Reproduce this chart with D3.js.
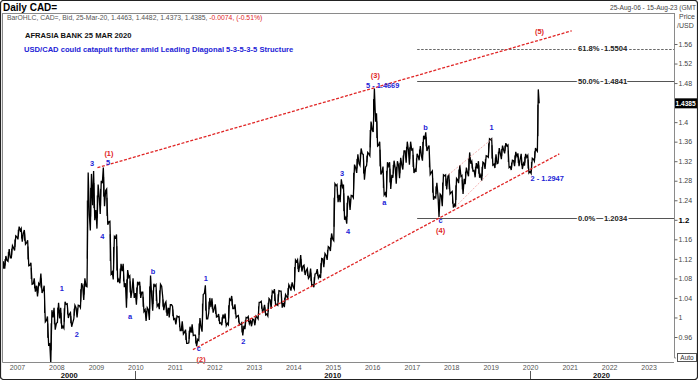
<!DOCTYPE html>
<html>
<head>
<meta charset="utf-8">
<script src="https://cdn.jsdelivr.net/npm/d3@7"></script>
<style>
  html, body { margin: 0; padding: 0; background: #fff; }
  svg { display: block; font-family: "Liberation Sans", Arial, sans-serif; }
</style>
</head>
<body>
<div id="chart"></div>
<script>
// ---- data (monthly high / low / close) ----
const startMonth = '2006-08';

const highs = [
  1.115, 1.126, 1.140, 1.147, 1.167,                                             // 2006 Aug-Dec
  1.186, 1.182, 1.179, 1.158, 1.112, 1.080, 1.070, 1.090, 1.065, 1.002, 1.015, 1.020, // 2007
  1.030, 1.020, 1.032, 1.028, 1.010, 1.025, 1.025, 1.070, 1.080, 1.297, 1.294, 1.300, // 2008
  1.272, 1.280, 1.307, 1.263, 1.197, 1.166, 1.170, 1.110, 1.110, 1.097, 1.085, 1.080, // 2009
  1.073, 1.073, 1.052, 1.020, 1.086, 1.069, 1.067, 1.068, 1.044, 1.032, 1.026, 1.023, // 2010
  1.003, 1.002, 0.992, 0.975, 0.981, 0.986, 0.964, 0.999, 1.047, 1.066, 1.040, 1.039, // 2011
  1.027, 1.007, 1.006, 1.008, 1.038, 1.044, 1.027, 1.004, 0.989, 1.000, 1.002, 0.997, // 2012
  1.003, 1.031, 1.033, 1.026, 1.039, 1.054, 1.058, 1.055, 1.054, 1.047, 1.067, 1.072, // 2013
  1.118, 1.118, 1.128, 1.107, 1.100, 1.100, 1.089, 1.099, 1.121, 1.131, 1.145, 1.172, // 2014
  1.274, 1.272, 1.283, 1.272, 1.249, 1.250, 1.313, 1.334, 1.346, 1.334, 1.338, 1.401, // 2015
  1.469, 1.418, 1.360, 1.309, 1.318, 1.318, 1.321, 1.320, 1.327, 1.341, 1.360, 1.360, // 2016
  1.345, 1.335, 1.351, 1.372, 1.379, 1.352, 1.300, 1.276, 1.253, 1.292, 1.292, 1.292, // 2017
  1.258, 1.285, 1.312, 1.291, 1.307, 1.338, 1.320, 1.316, 1.320, 1.318, 1.331, 1.366, // 2018
  1.366, 1.334, 1.347, 1.352, 1.357, 1.353, 1.322, 1.339, 1.336, 1.335, 1.335, 1.332, // 2019
  1.326, 1.347, 1.467                                                            // 2020
];

const lows = [
  1.100, 1.100, 1.115, 1.122, 1.137,
  1.160, 1.155, 1.150, 1.106, 1.068, 1.053, 1.043, 1.050, 0.991, 0.944, 0.906, 0.975,
  0.990, 0.977, 0.978, 0.999, 0.981, 0.997, 1.000, 1.020, 1.036, 1.063, 1.178, 1.199,
  1.182, 1.212, 1.228, 1.190, 1.089, 1.078, 1.072, 1.070, 1.062, 1.020, 1.040, 1.040,
  1.026, 1.040, 1.012, 0.993, 0.995, 1.014, 1.023, 1.017, 1.015, 1.003, 1.000, 0.996,
  0.986, 0.973, 0.966, 0.947, 0.948, 0.963, 0.941, 0.953, 0.971, 0.997, 1.009, 1.010,
  1.001, 0.988, 0.984, 0.983, 0.985, 1.018, 1.000, 0.985, 0.963, 0.976, 0.987, 0.982,
  0.984, 0.997, 1.013, 1.005, 1.003, 1.018, 1.026, 1.025, 1.020, 1.021, 1.039, 1.055,
  1.058, 1.093, 1.094, 1.087, 1.080, 1.066, 1.062, 1.081, 1.081, 1.103, 1.118, 1.136,
  1.157, 1.236, 1.236, 1.200, 1.192, 1.220, 1.245, 1.296, 1.311, 1.282, 1.311, 1.331,
  1.380, 1.351, 1.293, 1.251, 1.246, 1.263, 1.286, 1.274, 1.285, 1.303, 1.317, 1.313,
  1.296, 1.298, 1.322, 1.321, 1.341, 1.293, 1.241, 1.245, 1.206, 1.228, 1.262, 1.253,
  1.225, 1.226, 1.275, 1.253, 1.273, 1.289, 1.300, 1.287, 1.286, 1.280, 1.304, 1.328,
  1.312, 1.306, 1.316, 1.324, 1.336, 1.307, 1.302, 1.310, 1.310, 1.304, 1.311, 1.296,
  1.295, 1.320, 1.340
];

const closes = [
  1.105, 1.117, 1.122, 1.142, 1.165,
  1.178, 1.172, 1.153, 1.107, 1.069, 1.065, 1.066, 1.056, 0.994, 0.946, 1.000, 0.988,
  0.998, 0.982, 1.027, 1.007, 0.990, 1.020, 1.024, 1.062, 1.064, 1.210, 1.230, 1.220,
  1.245, 1.275, 1.260, 1.196, 1.093, 1.163, 1.078, 1.095, 1.070, 1.082, 1.056, 1.050,
  1.068, 1.052, 1.016, 1.016, 1.042, 1.064, 1.027, 1.064, 1.028, 1.020, 1.026, 0.998,
  1.001, 0.973, 0.970, 0.947, 0.969, 0.964, 0.955, 0.979, 1.049, 0.997, 1.021, 1.018,
  1.002, 0.989, 0.998, 0.988, 1.035, 1.018, 1.003, 0.986, 0.983, 0.999, 0.993, 0.995,
  1.000, 1.031, 1.016, 1.007, 1.036, 1.051, 1.027, 1.054, 1.030, 1.043, 1.062, 1.062,
  1.114, 1.107, 1.105, 1.096, 1.084, 1.067, 1.090, 1.086, 1.120, 1.127, 1.143, 1.160,
  1.270, 1.251, 1.267, 1.205, 1.244, 1.249, 1.306, 1.315, 1.335, 1.308, 1.335, 1.384,
  1.401, 1.353, 1.298, 1.255, 1.310, 1.292, 1.306, 1.311, 1.312, 1.341, 1.343, 1.343,
  1.303, 1.330, 1.330, 1.365, 1.348, 1.297, 1.247, 1.248, 1.250, 1.290, 1.289, 1.256,
  1.231, 1.282, 1.289, 1.284, 1.296, 1.315, 1.301, 1.305, 1.292, 1.316, 1.330, 1.364,
  1.314, 1.315, 1.335, 1.343, 1.351, 1.309, 1.321, 1.330, 1.324, 1.316, 1.328, 1.299,
  1.324, 1.342, 1.4385
];

const yTicks = [0.96, 1, 1.04, 1.08, 1.12, 1.16, 1.2, 1.24, 1.28, 1.32, 1.36, 1.4, 1.48, 1.52, 1.56];
const yearTicks = d3.range(2007, 2024);
const decades = [2000, 2010, 2020];
const lastPrice = 1.4385;

// Elliott wave labels: [text, date, value, colour]
const waveLabels = [
  ['1', '2008-02-20', 1.059, 'blue'], ['2', '2008-07-08', 0.966, 'blue'],
  ['3', '2008-11-25', 1.315, 'blue'], ['4', '2009-02-28', 1.167, 'blue'],
  ['5', '2009-04-22', 1.317, 'blue'], ['a', '2009-11-12', 1.003, 'blue'],
  ['b', '2010-06-12', 1.095, 'blue'], ['1', '2011-10-15', 1.081, 'blue'],
  ['c', '2011-08-10', 0.936, 'blue'], ['2', '2012-09-25', 0.950, 'blue'],
  ['3', '2015-03-28', 1.296, 'blue'], ['4', '2015-05-22', 1.177, 'blue'],
  ['a', '2016-04-22', 1.235, 'blue'], ['b', '2017-05-08', 1.389, 'blue'],
  ['c', '2017-09-25', 1.199, 'blue'], ['1', '2019-01-10', 1.389, 'blue'],
  ['(1)', '2009-05-01', 1.335, 'red'], ['(2)', '2011-09-01', 0.914, 'red'],
  ['(3)', '2016-01-30', 1.495, 'red'], ['(4)', '2017-09-25', 1.178, 'red'],
  ['(5)', '2020-03-28', 1.585, 'red']
];
// labels anchored at their left end
const sideLabels = [
  ['5 - 1.4669', '2015-11-05', 1.475], ['2 - 1.2947', '2020-01-05', 1.284]
];

// trend lines in data space: [[date, value], [date, value]]
const upperTrend = [['2009-01-15', 1.3066], ['2021-01-20', 1.587]];
const lowerTrend = [['2011-06-17', 0.934], ['2020-09-27', 1.335]];
const channelTop = [['2017-12-05', 1.292], ['2019-01-15', 1.366]];
const channelBottom = [['2018-02-10', 1.227], ['2018-12-10', 1.294]];

// Fibonacci retracement levels
const fibStart = '2017-02-20';
const fibLevels = [
  { pct: '61.8%', value: 1.5504, dashed: true },
  { pct: '50.0%', value: 1.4841, dashed: false },
  { pct: '0.0%', value: 1.2034, dashed: false }
];

// ---- layout ----
const W = 698, H = 380;
const plot = { left: 3, right: 674, top: 13, bottom: 362 };
const parse = d3.timeParse('%Y-%m-%d');
const domainStart = new Date(2006, 7, 25), domainEnd = new Date(2023, 7, 15);
const lastDate = new Date(2020, 2, 25);

const x = d3.scaleTime().domain([domainStart, domainEnd]).range([3, 673]);
const y = d3.scaleLinear().domain([0.96, 1.56]).range([337, 44]);

const colors = { blue: '#2323d6', red: '#e02626' };

const svg = d3.select('#chart').append('svg').attr('width', W).attr('height', H);

svg.append('rect').attr('width', W).attr('height', H).attr('fill', '#fff');

// plot frame
svg.append('path')
  .attr('d', `M${plot.left - 0.5},${plot.top + 0.5}H${plot.right + 0.5}M${plot.left - 0.5},${plot.top}V${plot.bottom + 0.5}H${plot.right}M${plot.right + 0.5},${plot.top}V358H676`)
  .attr('fill', 'none').attr('stroke', '#8a8a8a').attr('stroke-width', 1);

svg.append('clipPath').attr('id', 'clip')
  .append('rect').attr('x', plot.left).attr('y', plot.top + 1)
  .attr('width', plot.right - plot.left).attr('height', plot.bottom - plot.top - 1);

const g = svg.append('g').attr('clip-path', 'url(#clip)');

// ---- price path: each month hits its high and low, then the close ----
const months = d3.timeMonth.range(parse(startMonth + '-01'), new Date(2020, 3, 1));
const pts = [];
months.forEach((m, i) => {
  const s = Math.max(m, domainStart), e = Math.min(d3.timeMonth.offset(m, 1), lastDate);
  const at = f => new Date(+s + (e - s) * f);
  const prev = i ? closes[i - 1] : closes[i];
  const upMonth = closes[i] >= prev;
  if (i === 0) pts.push([at(0), prev]);
  pts.push([at(0.3), upMonth ? lows[i] : highs[i]]);
  pts.push([at(0.65), upMonth ? highs[i] : lows[i]]);
  pts.push([at(1), closes[i]]);
});

g.append('path').datum(pts)
  .attr('d', d3.line().x(d => x(d[0])).y(d => y(d[1])))
  .attr('fill', 'none').attr('stroke', '#000').attr('stroke-width', 1.3)
  .attr('stroke-linejoin', 'miter');

// monthly high-low bars for the bar texture
g.selectAll('line.bar').data(months).join('line').attr('class', 'bar')
  .attr('x1', (m, i) => x(new Date(+Math.max(m, domainStart) + 12 * 864e5)))
  .attr('x2', (m, i) => x(new Date(+Math.max(m, domainStart) + 12 * 864e5)))
  .attr('y1', (m, i) => y(highs[i]) + (highs[i] - lows[i]) * 120)
  .attr('y2', (m, i) => y(lows[i]) - (highs[i] - lows[i]) * 120)
  .attr('stroke', '#000').attr('stroke-width', 1);

// ---- Fibonacci lines ----
fibLevels.forEach(f => {
  g.append('line')
    .attr('x1', x(parse(fibStart))).attr('x2', plot.right)
    .attr('y1', Math.round(y(f.value)) + 0.5).attr('y2', Math.round(y(f.value)) + 0.5)
    .attr('stroke', f.dashed ? '#666' : '#555').attr('stroke-width', 1)
    .attr('stroke-dasharray', f.dashed ? '2.5,1.5' : null);
  [[f.pct, 578], [f.value.toFixed(4), 604]].forEach(([t, px]) => {
    svg.append('text').attr('x', px).attr('y', y(f.value) + 2.6)
      .attr('font-size', 7.6).attr('font-weight', 'bold').attr('fill', '#222')
      .attr('stroke', '#fff').attr('stroke-width', 2.5).attr('paint-order', 'stroke')
      .text(t);
  });
});

// ---- trend lines ----
const seg = (pair, stroke, width, dash) => g.append('line')
  .attr('x1', x(parse(pair[0][0]))).attr('y1', y(pair[0][1]))
  .attr('x2', x(parse(pair[1][0]))).attr('y2', y(pair[1][1]))
  .attr('stroke', stroke).attr('stroke-width', width).attr('stroke-dasharray', dash);

seg(upperTrend, '#e02626', 1.3, '3,1.6');
seg(lowerTrend, '#e02626', 1.3, '3,1.6');
seg(channelTop, '#f0a0a0', 0.8, '2,1.5');
seg(channelBottom, '#f0a0a0', 0.8, '2,1.5');

// ---- wave labels ----
svg.selectAll('text.wave').data(waveLabels).join('text').attr('class', 'wave')
  .attr('x', d => x(parse(d[1]))).attr('y', d => y(d[2]) + 2.6)
  .attr('text-anchor', 'middle').attr('font-size', 7.4).attr('font-weight', 'bold')
  .attr('fill', d => colors[d[3]]).text(d => d[0]);

svg.selectAll('text.side').data(sideLabels).join('text').attr('class', 'side')
  .attr('x', d => x(parse(d[1]))).attr('y', d => y(d[2]) + 2.6)
  .attr('font-size', 7.4).attr('font-weight', 'bold')
  .attr('fill', colors.blue).text(d => d[0]);

// ---- right axis ----
const yAxis = svg.append('g').attr('transform', `translate(${plot.right + 0.5},0)`)
  .call(d3.axisRight(y).tickValues(yTicks).tickSize(3).tickPadding(1)
    .tickFormat(v => String(+v.toFixed(2))));
yAxis.select('.domain').remove();
yAxis.selectAll('line').attr('stroke', '#666');
yAxis.selectAll('text').attr('font-size', 7).attr('fill', '#444')
  .attr('font-family', '"Liberation Sans", Arial, sans-serif')
  .filter(v => v === 1.2).attr('font-weight', 'bold').attr('fill', '#000').attr('font-size', 7.8);

// last price box
svg.append('rect').attr('x', plot.right + 1).attr('y', y(lastPrice) - 5)
  .attr('width', W - plot.right - 1).attr('height', 10).attr('fill', '#000');
svg.append('text').attr('x', plot.right + 1.5).attr('y', y(lastPrice) + 2.5)
  .attr('font-size', 6.6).attr('font-weight', 'bold').attr('fill', '#fff').text(lastPrice.toFixed(4));

svg.append('text').attr('x', 679).attr('y', 19).attr('font-size', 7).attr('fill', '#444').text('Price');
svg.append('text').attr('x', 677).attr('y', 28).attr('font-size', 7).attr('fill', '#444').text('/USD');

// Auto box
svg.append('rect').attr('x', 677.5).attr('y', 353.5).attr('width', 19).attr('height', 8)
  .attr('fill', '#fff').attr('stroke', '#555');
svg.append('text').attr('x', 687).attr('y', 360).attr('text-anchor', 'middle')
  .attr('font-size', 6.5).attr('fill', '#333').text('Auto');

// ---- bottom axis ----
const xAxis = svg.append('g').attr('transform', `translate(0,${plot.bottom})`)
  .call(d3.axisBottom(x).tickValues(yearTicks.map(v => new Date(v, 0, 1)))
    .tickSize(0).tickPadding(3).tickFormat(d3.timeFormat('%Y')));
xAxis.select('.domain').attr('stroke', '#8a8a8a');
xAxis.selectAll('text').attr('font-size', 7).attr('fill', '#555')
  .attr('font-family', '"Liberation Sans", Arial, sans-serif');

decades.forEach(dc => {
  const s = Math.max(x(new Date(dc, 0, 1)), plot.left);
  const e = Math.min(x(new Date(dc + 10, 0, 1)), x.range()[1]);
  svg.append('text').attr('x', (s + e) / 2).attr('y', 378).attr('text-anchor', 'middle')
    .attr('font-size', 7.6).attr('font-weight', 'bold').attr('fill', '#111').text(dc);
  if (x(new Date(dc, 0, 1)) > plot.left) {
    svg.append('line').attr('x1', Math.round(s) + 0.5).attr('x2', Math.round(s) + 0.5)
      .attr('y1', 371).attr('y2', H).attr('stroke', '#555');
  }
});

// ---- header texts ----
svg.append('text').attr('x', 3).attr('y', 11).attr('font-size', 10).attr('font-weight', 'bold')
  .attr('fill', '#000').text('Daily CAD=');
svg.append('text').attr('x', 610).attr('y', 10).attr('font-size', 6.6).attr('fill', '#444')
  .text('25-Aug-06 - 15-Aug-23 (GMT');

const info = svg.append('text').attr('x', 7).attr('y', 20).attr('font-size', 6.8).attr('fill', '#555');
info.append('tspan').text('BarOHLC, CAD=, Bid, 25-Mar-20, 1.4463, 1.4482, 1.4373, 1.4385, ');
info.append('tspan').attr('fill', '#e02626').text('-0.0074, (-0.51%)');

svg.append('text').attr('x', 25).attr('y', 38).attr('font-size', 7.6).attr('font-weight', 'bold')
  .attr('fill', '#111').text('AFRASIA BANK 25 MAR 2020');
svg.append('text').attr('x', 24).attr('y', 52).attr('font-size', 7.6).attr('font-weight', 'bold')
  .attr('fill', colors.blue).text('USD/CAD could catapult further amid Leading Diagonal 5-3-5-3-5 Structure');

// outer frame
svg.append('rect').attr('x', 0.5).attr('y', 0.5).attr('width', W - 1).attr('height', H - 1)
  .attr('rx', 3).attr('fill', 'none').attr('stroke', '#222').attr('stroke-width', 1.2);
</script>
</body>
</html>
